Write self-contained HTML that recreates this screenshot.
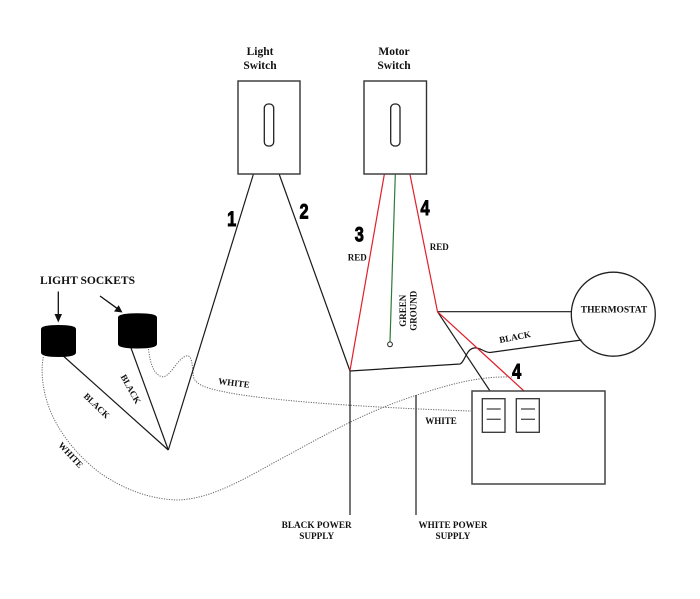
<!DOCTYPE html>
<html><head><meta charset="utf-8"><style>
html,body{margin:0;padding:0;background:#fff;}
svg{display:block;}
.t{font-family:"Liberation Serif",serif;font-weight:bold;fill:#111;}
.n{font-family:"Liberation Sans",sans-serif;font-weight:bold;fill:#000;stroke:#000;stroke-width:0.9;}
</style></head><body>
<svg width="700" height="599" viewBox="0 0 700 599" xmlns="http://www.w3.org/2000/svg">
<rect width="700" height="599" fill="#fff"/>

<!-- switch labels -->
<text class="t" x="260" y="55" font-size="11.5" text-anchor="middle">Light</text>
<text class="t" x="260" y="69" font-size="11.5" text-anchor="middle">Switch</text>
<text class="t" x="394" y="55" font-size="11.5" text-anchor="middle">Motor</text>
<text class="t" x="394" y="69" font-size="11.5" text-anchor="middle">Switch</text>

<!-- switches -->
<rect x="238" y="81" width="62" height="93" fill="none" stroke="#333" stroke-width="1.4"/>
<rect x="264.3" y="104" width="9.4" height="42" rx="4" fill="none" stroke="#222" stroke-width="1.3"/>
<rect x="364" y="81" width="62.5" height="93" fill="none" stroke="#333" stroke-width="1.4"/>
<rect x="390.7" y="104" width="9.3" height="42" rx="4" fill="none" stroke="#222" stroke-width="1.3"/>

<!-- white dotted wires -->
<g fill="none" stroke="#666" stroke-width="1" stroke-dasharray="1.2,1.3">
<path d="M148.5,349 C150,362 153,374 161.7,376.7 C170,378 176,360 186,356 C193,354 192,368 193.5,377 C196,386 210,389 230,393 C280,402 380,408 471,411"/>
<path d="M43.3,357 C40,375 44,395 50,410 C60,435 80,458 100,473 C125,490 150,499 177,500 C215,499 250,475 290,454 C330,432 370,410 417,395 C450,384 480,376 512,377"/>
</g>

<!-- black wires -->
<g fill="none" stroke="#1a1a1a" stroke-width="1.2">
<line x1="253.3" y1="174.5" x2="168.3" y2="450"/>
<line x1="279.3" y1="174.5" x2="350" y2="371"/>
<line x1="63.3" y1="356" x2="168.3" y2="450"/>
<line x1="131" y1="348" x2="168.3" y2="450"/>
<line x1="350" y1="371" x2="350" y2="515"/>
<line x1="416" y1="395" x2="416" y2="515"/>
<path d="M350,371 L460,364 C465,362 466,349 474,348 C480,347 484,352.5 490,352.5 L581.5,340"/>
<line x1="437.5" y1="311.7" x2="571.7" y2="311.7"/>
<line x1="437.5" y1="311.7" x2="490" y2="391"/>
</g>

<!-- red & green wires -->
<g fill="none" stroke-width="1.2">
<line x1="384.3" y1="174.5" x2="350" y2="370.5" stroke="#e0202a"/>
<polyline points="410,174.5 437.5,311.7 524,391" stroke="#e0202a"/>
<line x1="395.3" y1="174.5" x2="390" y2="341.5" stroke="#2f7a3a"/>
<circle cx="390" cy="344.3" r="2.4" stroke="#222" stroke-width="1"/>
</g>

<!-- thermostat -->
<circle cx="613.3" cy="314.2" r="42" fill="none" stroke="#222" stroke-width="1.3"/>
<text class="t" x="614" y="312.7" font-size="9.3" text-anchor="middle" textLength="66.5" lengthAdjust="spacingAndGlyphs">THERMOSTAT</text>

<!-- box -->
<rect x="472" y="391" width="133" height="93" fill="none" stroke="#444" stroke-width="1.5"/>
<rect x="482.3" y="398.7" width="22.7" height="33.6" fill="none" stroke="#333" stroke-width="1.3"/>
<rect x="516.3" y="398.7" width="23" height="33.6" fill="none" stroke="#333" stroke-width="1.3"/>
<g stroke="#555" stroke-width="1.4">
<line x1="486.7" y1="409" x2="500.7" y2="409"/>
<line x1="486.7" y1="419.3" x2="500.7" y2="419.3"/>
<line x1="521" y1="409" x2="535" y2="409"/>
<line x1="521" y1="419.3" x2="535" y2="419.3"/>
</g>

<!-- sockets -->
<path d="M41,329 Q41,325 58.5,325 Q76,325 76,329 L76,352.5 Q76,357 58.5,357 Q41,357 41,352.5 Z" fill="#000"/>
<path d="M118,317.5 Q118,313.3 137.5,313.3 Q157,313.3 157,317.5 L157,344 Q157,348.5 137.5,348.5 Q118,348.5 118,344 Z" fill="#000"/>

<!-- arrows -->
<line x1="58.3" y1="291.5" x2="58.3" y2="316" stroke="#111" stroke-width="1.3"/>
<polygon points="54.5,314 62,314 58.3,322.5" fill="#111"/>
<line x1="100" y1="296" x2="117" y2="308.3" stroke="#111" stroke-width="1.3"/>
<polygon points="114,311.5 118.7,305.2 122.5,312.5" fill="#111"/>

<!-- labels -->
<text class="t" x="87.5" y="284" font-size="11.5" text-anchor="middle" textLength="95" lengthAdjust="spacingAndGlyphs">LIGHT SOCKETS</text>
<text class="t" x="0" y="0" font-size="9" text-anchor="middle" transform="translate(96.7,405.7) rotate(44) translate(0,3)">BLACK</text>
<text class="t" x="0" y="0" font-size="9" text-anchor="middle" transform="translate(130.7,389) rotate(61) translate(0,3)">BLACK</text>
<text class="t" x="0" y="0" font-size="9" text-anchor="middle" transform="translate(70.7,455) rotate(47) translate(0,3)">WHITE</text>
<text class="t" x="0" y="0" font-size="9" text-anchor="middle" transform="translate(234,383) rotate(7) translate(0,3)">WHITE</text>
<text class="t" x="441" y="424" font-size="9" text-anchor="middle">WHITE</text>
<text class="t" x="0" y="0" font-size="9" text-anchor="middle" transform="translate(515,337) rotate(-11) translate(0,3)">BLACK</text>
<text class="t" x="357.3" y="260.7" font-size="9" text-anchor="middle">RED</text>
<text class="t" x="439.3" y="250" font-size="9" text-anchor="middle">RED</text>
<text class="t" x="0" y="0" font-size="9" text-anchor="middle" transform="translate(406,310.8) rotate(-90)">GREEN</text>
<text class="t" x="0" y="0" font-size="9" text-anchor="middle" transform="translate(416.5,310.8) rotate(-90)">GROUND</text>
<text class="t" x="316.7" y="528" font-size="9.2" text-anchor="middle" textLength="70" lengthAdjust="spacingAndGlyphs">BLACK POWER</text>
<text class="t" x="316.7" y="539" font-size="9.2" text-anchor="middle">SUPPLY</text>
<text class="t" x="453" y="528" font-size="9.2" text-anchor="middle" textLength="69" lengthAdjust="spacingAndGlyphs">WHITE POWER</text>
<text class="t" x="453" y="539" font-size="9.2" text-anchor="middle">SUPPLY</text>

<!-- numbers -->
<text class="n" font-size="21" text-anchor="middle" transform="translate(231.7,226) scale(0.78,1)">1</text>
<text class="n" font-size="21" text-anchor="middle" transform="translate(304,218.3) scale(0.78,1)">2</text>
<text class="n" font-size="21" text-anchor="middle" transform="translate(359.3,241.5) scale(0.78,1)">3</text>
<text class="n" font-size="21" text-anchor="middle" transform="translate(425,215) scale(0.78,1)">4</text>
<text class="n" font-size="21" text-anchor="middle" transform="translate(516.7,378.3) scale(0.78,1)">4</text>
</svg>
</body></html>
